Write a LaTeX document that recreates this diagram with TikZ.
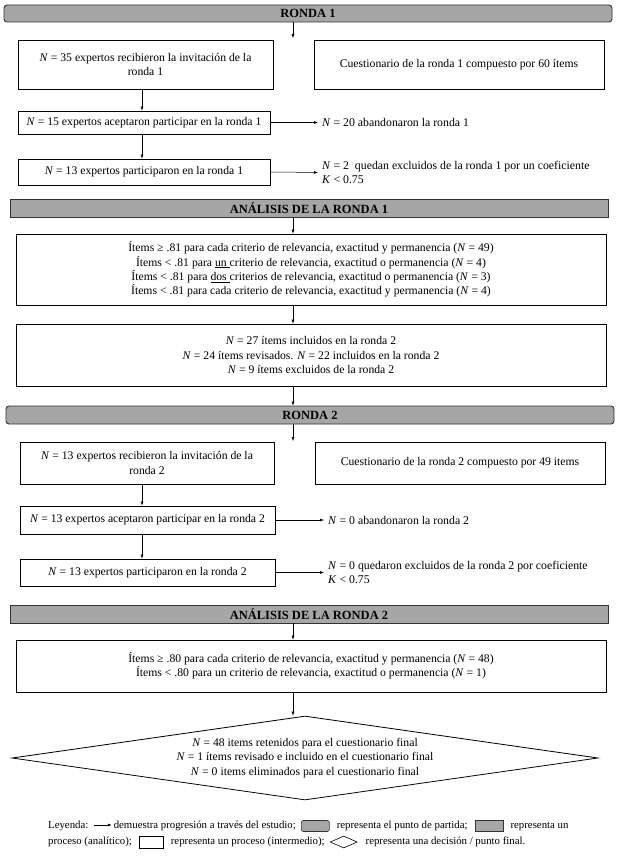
\documentclass[tikz,border=0pt]{standalone}
\usepackage{fontspec}
\setmainfont{Liberation Serif}
\usetikzlibrary{arrows.meta,positioning,calc,shapes.geometric}
\begin{document}
\begin{tikzpicture}[x=1pt,y=-1pt,
  font=\fontsize{11.7}{14.3}\selectfont,
  hdr/.style={draw=black!80,line width=0.9pt,fill=gray!70,font=\bfseries\fontsize{12.5}{14}\selectfont,inner sep=0pt},
  hdrround/.style={hdr,rounded corners=3pt},
  pbox/.style={draw=black,line width=0.8pt,fill=white,align=center,inner sep=0pt},
  side/.style={align=left,anchor=west,inner sep=0pt,font=\fontsize{11.8}{13.5}\selectfont},
  arr/.style={-{Latex[length=4pt,width=3pt]},line width=0.5pt},
  dec/.style={draw=black,line width=0.8pt,shape=diamond,aspect=7,inner sep=0pt,align=center},
  leg/.style={inner sep=0pt,text height=7.5pt,text depth=2.2pt,font=\fontsize{10.8}{12}\selectfont},
  legstart/.style={draw=black!80,fill=gray!70,rounded corners=2pt,minimum width=28,minimum height=11,inner sep=0pt,line width=0.6pt},
  legproc/.style={draw=black!80,fill=gray!70,minimum width=28,minimum height=11,inner sep=0pt,line width=0.6pt},
  legbox/.style={draw=black,fill=white,minimum width=24,minimum height=12,inner sep=0pt,line width=0.6pt},
  legdia/.style={draw=black,shape=diamond,aspect=2.2,minimum width=27,minimum height=12,inner sep=0pt,line width=0.6pt}
]
\useasboundingbox (0,0) rectangle (618,859);
\coordinate (ax) at (293,0);
\coordinate (lx) at (142,0);

% ---------- RONDA 1 ----------
\node[hdrround,minimum width=608,minimum height=17] (r1) at (308,13.5) {RONDA 1};
\coordinate (r1end) at (293,38);
\draw[arr] (r1.south -| ax) -- (r1end);

\node[pbox,minimum width=255,minimum height=49] (b1) at (145.5,64.5) {\textit{N} = 35 expertos recibieron la invitación de la\\ronda 1};
\node[pbox,minimum width=290,minimum height=49] (q1) at (459,64.5) {Cuestionario de la ronda 1 compuesto por 60 ítems};
\node[pbox,minimum width=252,minimum height=23] (b2) at (144,122.5) {\textit{N} = 15 expertos aceptaron participar en la ronda 1};
\node[pbox,minimum width=252,minimum height=26] (b3) at (144,172) {\textit{N} = 13 expertos participaron en la ronda 1};
\node[side] (d1) at (322,122.5) {\textit{N} = 20 abandonaron la ronda 1};
\node[side] (d2) at (322,172.5) {\textit{N} = 2\ \ quedan excluidos de la ronda 1 por un coeficiente\\\textit{K} < 0.75};
\draw[arr] (b1.south -| lx) -- (b2.north -| lx);
\draw[arr] (b2.south -| lx) -- (b3.north -| lx);
\draw[arr,shorten >=4pt] (b2.east) -- (d1.west);
\draw[arr,shorten >=4pt] (b3.east) -- (d2.west);

% ---------- ANALISIS 1 ----------
\node[hdr,minimum width=598,minimum height=18] (a1) at (309,208) {ANÁLISIS DE LA RONDA 1};
\node[pbox,minimum width=590,minimum height=71] (c1) at (311,269.5) {Ítems ≥ .81 para cada criterio de relevancia, exactitud y permanencia (\textit{N} = 49)\\
Ítems < .81 para \underline{un\ }criterio de relevancia, exactitud o permanencia (\textit{N} = 4)\\
Ítems < .81 para \underline{dos\ }criterios de relevancia, exactitud o permanencia (\textit{N} = 3)\\
Ítems < .81 para cada criterio de relevancia, exactitud y permanencia (\textit{N} = 4)};
\node[pbox,minimum width=590,minimum height=62] (c2) at (311,355) {\textit{N} = 27 ítems incluidos en la ronda 2\\
\textit{N} = 24 ítems revisados. \textit{N} = 22 incluidos en la ronda 2\\
\textit{N} = 9 ítems excluidos de la ronda 2};
\draw[arr] (a1.south -| ax) -- (c1.north -| ax);
\draw[arr] (c1.south -| ax) -- (c2.north -| ax);

% ---------- RONDA 2 ----------
\node[hdrround,minimum width=608,minimum height=18] (r2) at (310,415) {RONDA 2};
\draw[arr] (c2.south -| ax) -- (r2.north -| ax);
\coordinate (r2end) at (293,441);
\draw[arr] (r2.south -| ax) -- (r2end);

\node[pbox,minimum width=254,minimum height=42] (e1) at (147,463) {\textit{N} = 13 expertos recibieron la invitación de la\\ronda 2};
\node[pbox,minimum width=290,minimum height=42] (q2) at (460,463) {Cuestionario de la ronda 2 compuesto por 49 items};
\node[pbox,minimum width=255,minimum height=28] (e2) at (147.5,520) {\textit{N} = 13 expertos aceptaron participar en la ronda 2};
\node[pbox,minimum width=255,minimum height=27] (e3) at (147.5,572.5) {\textit{N} = 13 expertos participaron en la ronda 2};
\node[side] (d3) at (328,520) {\textit{N} = 0 abandonaron la ronda 2};
\node[side] (d4) at (328,572.5) {\textit{N} = 0 quedaron excluidos de la ronda 2 por coeficiente\\\textit{K} < 0.75};
\draw[arr] (e1.south -| lx) -- (e2.north -| lx);
\draw[arr] (e2.south -| lx) -- (e3.north -| lx);
\draw[arr,shorten >=4pt] (e2.east) -- (d3.west);
\draw[arr,shorten >=4pt] (e3.east) -- (d4.west);

% ---------- ANALISIS 2 ----------
\node[hdr,minimum width=598,minimum height=18] (a2) at (309,614) {ANÁLISIS DE LA RONDA 2};
\node[pbox,minimum width=590,minimum height=52] (f1) at (311,666) {Ítems ≥ .80 para cada criterio de relevancia, exactitud y permanencia (\textit{N} = 48)\\
Ítems < .80 para un criterio de relevancia, exactitud o permanencia (\textit{N} = 1)};
\draw[arr] (a2.south -| ax) -- (f1.north -| ax);

\node[dec,minimum width=586,minimum height=84] (dm) at (305,758) {\textit{N} = 48 items retenidos para el cuestionario final\\
\textit{N} = 1 ítems revisado e incluido en el cuestionario final\\
\textit{N} = 0 items eliminados para el cuestionario final};
\draw[arr] (f1.south -| ax) -- (dm.north -| ax);

% ---------- LEYENDA ----------
\node[leg,anchor=west] (l1) at (48,826) {Leyenda:};
\coordinate (la1) at ($(l1.east)+(5,-1)$);
\coordinate (la2) at ($(la1)+(18,0)$);
\draw[-{Latex[length=3.5pt,width=3pt]},line width=0.6pt] (la1) -- (la2);
\node[leg,anchor=west] (l2) at ($(la2)+(2,1)$) {demuestra progresión a través del estudio;};
\node[legstart,right=5pt of l2] (i1) {};
\node[leg,right=7pt of i1] (l3) {representa el punto de partida;};
\node[legproc,right=7pt of l3] (i2) {};
\node[leg,right=7pt of i2] (l4) {representa un};

\node[leg,anchor=west] (m1) at (48,842) {proceso (analítico);};
\node[legbox,right=7pt of m1] (i3) {};
\node[leg,right=7pt of i3] (m2) {representa un proceso (intermedio);};
\node[legdia,right=5pt of m2] (i4) {};
\node[leg,right=8pt of i4] (m3) {representa una decisión / punto final.};
\end{tikzpicture}
\end{document}
